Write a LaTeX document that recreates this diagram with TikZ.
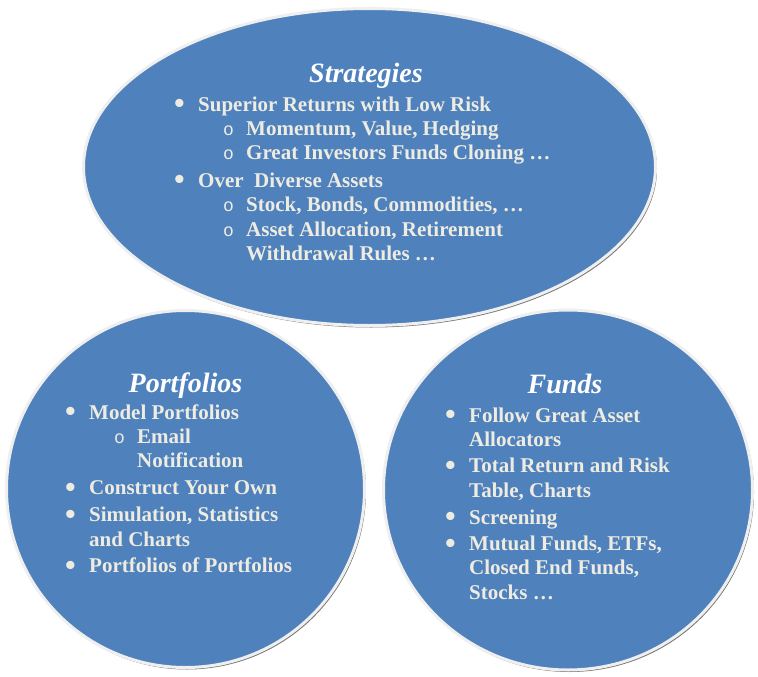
\documentclass[tikz,border=0pt]{standalone}
\usepackage{fontspec}
\usepackage{graphicx}
\setmainfont{Liberation Serif}
\newfontfamily\bulfont{Liberation Mono}
\usetikzlibrary{shapes.geometric,shadows}
\definecolor{bubbleblue}{HTML}{4F81BD}
\definecolor{bubbleedge}{HTML}{EFEFEF}
\definecolor{bodytext}{HTML}{EEECE1}
\newcommand\bul{\makebox[24pt][l]{\smash{\raisebox{-2.5pt}{\scalebox{1.45}{\textbullet}}}}}
\newcommand\ind{\hspace*{24pt}}
\newcommand\sbul{\makebox[48pt][l]{\hspace{25pt}\smash{\fontsize{18}{18}\bulfont\mdseries o}}}
\begin{document}
\begin{tikzpicture}[x=1pt, y=-1pt,
  bubble/.style={ellipse, draw=bubbleedge, line width=3pt, fill=bubbleblue,
    drop shadow={shadow xshift=1.5pt, shadow yshift=-2pt, fill=black!55, opacity=1}},
  title/.style={font=\fontsize{28}{32}\selectfont\bfseries\itshape, text=white, inner sep=0pt, anchor=base},
  body/.style={font=\fontsize{21}{24.4}\selectfont\bfseries, text=bodytext, inner sep=0pt, anchor=base west}]
\useasboundingbox (0,0) rectangle (758,677);
\node[bubble, minimum width=572pt, minimum height=317pt] (strat) at (369.5,167) {};
\node[bubble, minimum width=358pt, minimum height=357pt] (port) at (185.5,489) {};
\node[bubble, minimum width=369pt, minimum height=360pt] (funds) at (568,490) {};
\node[title] (strattitle) at (366,82) {Strategies};
\node[body] (stratlist) at (174,111) {\begin{tabular}[t]{@{}l@{}}
  \bul Superior Returns with Low Risk\\
  \ind\sbul Momentum, Value, Hedging\\
  \ind\sbul Great Investors Funds Cloning …\\[3pt]
  \bul Over\ \ Diverse Assets\\
  \ind\sbul Stock, Bonds, Commodities, …\\
  \ind\sbul Asset Allocation, Retirement\\
  \ind\hspace*{48pt}Withdrawal Rules …
\end{tabular}};
\node[title] (porttitle) at (185.5,392) {Portfolios};
\node[body] (portlist) at (65,419) {\begin{tabular}[t]{@{}l@{}}
  \bul Model Portfolios\\
  \ind\sbul Email\\
  \ind\hspace*{48pt}Notification\\[2.5pt]
  \bul Construct Your Own\\[2.5pt]
  \bul Simulation, Statistics\\
  \ind and Charts\\[2.5pt]
  \bul Portfolios of Portfolios
\end{tabular}};
\node[title] (fundstitle) at (565,393) {Funds};
\node[body] (fundslist) at (445,422) {\begin{tabular}[t]{@{}l@{}}
  \bul Follow Great Asset\\
  \ind Allocators\\[2pt]
  \bul Total Return and Risk\\
  \ind Table, Charts\\[2.5pt]
  \bul Screening\\[2pt]
  \bul Mutual Funds, ETFs,\\
  \ind Closed End Funds,\\
  \ind Stocks …
\end{tabular}};
\end{tikzpicture}
\end{document}
